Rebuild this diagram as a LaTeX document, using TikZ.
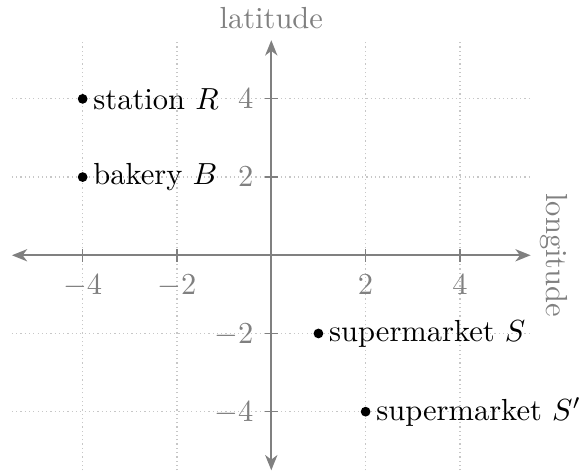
\documentclass[tikz,border=0pt]{standalone}
\usetikzlibrary{arrows.meta}
\begin{document}
\begin{tikzpicture}[x=15.462pt,y=12.820pt,
  gridline/.style={black!22, densely dotted, line width=0.4pt},
  axisline/.style={black!50, line width=0.65pt,
    {Stealth[length=5pt,width=4pt,inset=1.5pt]}-{Stealth[length=5pt,width=4pt,inset=1.5pt]}},
  tickmark/.style={black!50, line width=0.4pt},
  ticklabel/.style={text=black!50, inner sep=0},
  axislabel/.style={text=black!50, inner sep=0},
  dot/.style={circle, fill=black, inner sep=0, minimum size=3.2pt},
  ptlabel/.style={anchor=west, inner sep=0.333em}]
\useasboundingbox (-5.753,-5.542) rectangle (6.631,6.529);
% grid
\foreach \v in {-4,-2,2,4} {
  \draw[gridline] (\v,-5.5) -- (\v,5.5);
  \draw[gridline] (-5.5,\v) -- (5.5,\v);
}
% axes
\coordinate (xl) at (-5.5,0);
\coordinate (xr) at (5.5,0);
\coordinate (yb) at (0,-5.5);
\coordinate (yt) at (0,5.5);
\draw[axisline] (xl) -- (xr);
\draw[axisline] (yb) -- (yt);
% ticks and labels
\foreach \v/\n in {-4/a,-2/b,2/c,4/d} {
  \draw[tickmark] (\v,0) ++(0,-2.1pt) -- ++(0,4.2pt);
  \draw[tickmark] (0,\v) ++(-2.1pt,0) -- ++(4.2pt,0);
  \node[ticklabel, anchor=base] (xt\n) at ([yshift=-13pt]\v,0) {$\v$};
  \node[ticklabel, anchor=base east] (yt\n) at ([xshift=-5.67pt,yshift=-3.22pt]0,\v) {$\v$};
}
% axis labels
\node[axislabel, anchor=base] (lat) at (0,5.80) {latitude};
\node[axislabel, rotate=-90, anchor=base] (lon) at (5.846,0) {longitude};
% points
\node[dot] (R) at (-4,4) {};
\node[ptlabel] (Rl) at (R.center) {station $R$};
\node[dot] (B) at (-4,2) {};
\node[ptlabel] (Bl) at (B.center) {bakery $B$};
\node[dot] (S) at (1,-2) {};
\node[ptlabel] (Sl) at (S.center) {supermarket $S$};
\node[dot] (S2) at (2,-4) {};
\node[ptlabel] (S2l) at (S2.center) {supermarket $S'$};
\end{tikzpicture}
\end{document}
